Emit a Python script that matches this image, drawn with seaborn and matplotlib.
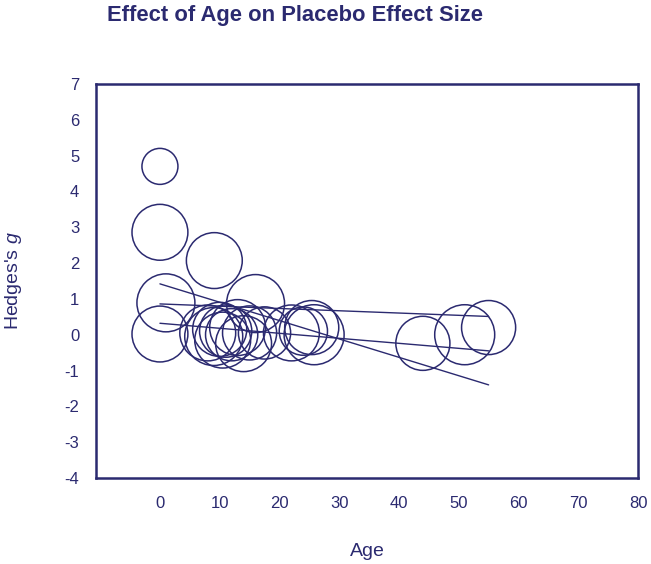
import matplotlib
matplotlib.use("Agg")
import matplotlib.pyplot as plt
import seaborn as sns
import pandas as pd
import numpy as np

# ---- data ----
ages = [0, 0, 9.1, 1.0, 0, 16.0, 8.0, 9.0, 10.0, 11.0, 12.0, 10.5, 13.0, 14.0,
        15.0, 17.5, 22.0, 24.0, 25.4, 25.8, 44.0, 51.0, 55.0]
hedges_g = [4.70, 2.86, 2.07, 0.89, 0.02, 0.87, 0.05, -0.05, 0.15, 0.10, 0.00,
            -0.15, 0.20, -0.25, 0.05, 0.05, 0.05, 0.10, 0.20, 0.00, -0.24, 0.00, 0.20]
study_weight = [32, 78, 78, 84, 78, 84, 78, 84, 73, 68, 68, 78, 78, 78,
                73, 68, 78, 58, 73, 90, 73, 90, 73]

line_start_age = [0, 0, 0]
line_end_age = [55, 55, 55]
line_start_g = [1.42, 0.86, 0.32]
line_end_g = [-1.40, 0.51, -0.45]

x_ticks = [0, 10, 20, 30, 40, 50, 60, 70, 80]
y_ticks = [-4, -3, -2, -1, 0, 1, 2, 3, 4, 5, 6, 7]

title = "Effect of Age on Placebo Effect Size"
xlabel = "Age"
ylabel = "Hedges's $g$"

# ---- style ----
navy = "#2b2a70"
sns.set_style("white")
plt.rcParams["font.family"] = ["Liberation Sans", "DejaVu Sans"]
plt.rcParams["mathtext.fontset"] = "custom"
plt.rcParams["mathtext.it"] = "Liberation Sans:italic"
plt.rcParams["mathtext.rm"] = "Liberation Sans"

df = pd.DataFrame({"age": ages, "g": hedges_g, "w": study_weight})

fig = plt.figure(figsize=(6.51, 5.64), dpi=100)
ax = fig.add_axes([96/651, 1-478/564, (638-96)/651, (478-84)/564])

xmin = -10.7
ax.set_xlim(xmin, 80)
ax.set_ylim(-4, 7)

def area_for_radius(rpx):
    return (2 * rpx * 72 / 100) ** 2

wmin, wmax = min(study_weight), max(study_weight)
sns.scatterplot(data=df, x="age", y="g", size="w",
                sizes=(area_for_radius(18), area_for_radius(30)),
                size_norm=(wmin, wmax), legend=False,
                facecolor="none", edgecolor=navy, linewidth=1.1, ax=ax)
for coll in ax.collections:
    coll.set_facecolor("none")
    coll.set_edgecolor(navy)
    coll.set_linewidth(1.1)

for xs, xe, ys, ye in zip(line_start_age, line_end_age, line_start_g, line_end_g):
    sns.lineplot(x=[xs, xe], y=[ys, ye], color=navy, linewidth=1.0, ax=ax)

for sp in ax.spines.values():
    sp.set_visible(True)
    sp.set_color(navy)
    sp.set_linewidth(1.8)

ax.set_xticks([xmin] + x_ticks)
ax.set_xticklabels([""] + [str(t) for t in x_ticks])
ax.set_yticks(y_ticks)
ax.set_yticklabels([str(t) for t in y_ticks])
ax.tick_params(axis="both", direction="out", width=1.5, color=navy,
               labelcolor=navy, labelsize=12)
ax.tick_params(axis="x", length=3, pad=10)
ax.tick_params(axis="y", length=5, pad=7)

ax.set_xlabel(xlabel, color=navy, fontsize=14)
ax.set_ylabel(ylabel, color=navy, fontsize=14)
ax.xaxis.set_label_coords(0.5, -(551-478)/394)
ax.yaxis.set_label_coords((14-96)/542, 0.5)
ax.xaxis.label.set_va("center")
ax.yaxis.label.set_va("center")

fig.text(295/651, 1-15/564, title, ha="center", va="center",
         fontsize=15.8, fontweight="bold", color=navy)

fig.savefig("out.png", dpi=100)
